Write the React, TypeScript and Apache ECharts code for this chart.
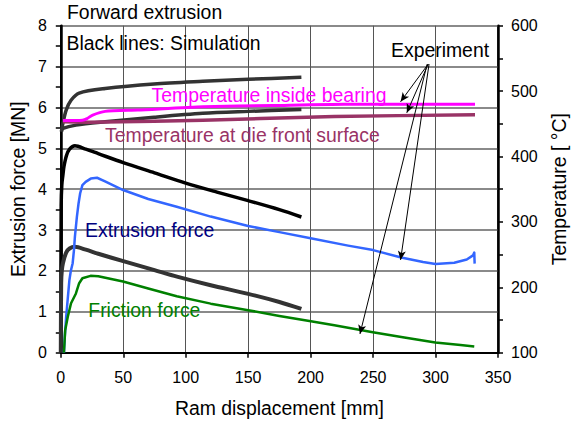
import React, { useEffect, useRef } from "react";
import * as echarts from "echarts";

// Ram displacement [mm] vs. value pairs
const simTempUpper: [number, number][] = [
  [0.5, 438], [1.7, 451], [4.3, 471], [8.2, 486], [14.7, 497], [35.5, 504],
  [74.6, 511], [113.7, 515], [150, 518], [192.6, 521],
];
const simTempLower: [number, number][] = [
  [0.5, 439], [1.7, 443], [12.1, 448], [35.5, 453], [74.6, 460],
  [113.7, 466], [150, 469], [192.6, 472],
];
const expTempBearing: [number, number][] = [
  [1.7, 455], [17.3, 455.6], [21, 458], [25.1, 463], [35.5, 469], [61.6, 471],
  [113.7, 476], [170, 478], [227, 480], [280, 480], [331.6, 480],
];
const expTempDie: [number, number][] = [
  [1.7, 453], [22.5, 452.5], [74.6, 454], [113.7, 455.6], [160, 458],
  [219, 461], [270, 462.5], [331.6, 464],
];
const simForce: [number, number][] = [
  [0, 0], [0.3, 3.6], [0.8, 4.1], [1.7, 4.35], [2.5, 4.55], [4.5, 4.82],
  [7, 4.98], [11.3, 5.06], [20, 4.98], [30, 4.87], [50, 4.65], [75, 4.4],
  [100, 4.15], [125, 3.93], [150, 3.72], [175, 3.5], [192.6, 3.32],
];
const simFriction: [number, number][] = [
  [0, 0], [0.3, 1.7], [0.8, 2.0], [1.7, 2.19], [4.3, 2.45], [7, 2.55],
  [11.3, 2.59], [20, 2.52], [30, 2.42], [50, 2.24], [75, 2.02], [93, 1.86],
  [120, 1.65], [150, 1.44], [175, 1.24], [192.6, 1.07],
];
const expForce: [number, number][] = [
  [2.5, 0], [3.2, 0.4], [4.3, 0.88], [5.5, 1.3], [6.9, 1.78], [8, 2.0],
  [9.5, 2.19], [10.5, 2.5], [11.3, 2.84], [12.9, 3.33], [14.2, 3.65],
  [15.5, 3.9], [17.3, 4.1], [19.9, 4.18], [24, 4.26], [29, 4.28], [35, 4.2],
  [49.9, 3.98], [70, 3.76], [92.8, 3.57], [120, 3.33], [150, 3.1],
  [175, 2.95], [200, 2.8], [230, 2.62], [250, 2.51], [272.5, 2.33],
  [290, 2.22], [300, 2.17], [315, 2.2], [325, 2.28], [330, 2.38],
  [331, 2.45], [331.3, 2.18],
];
const expFriction: [number, number][] = [
  [2.5, 0], [3.5, 0.55], [5.6, 0.88], [8.2, 1.21], [12.1, 1.45], [14.7, 1.7],
  [17.3, 1.82], [23.8, 1.88], [30, 1.87], [49.8, 1.74], [70, 1.57],
  [92.8, 1.38], [120, 1.2], [150, 1.04], [175, 0.9], [200.2, 0.77],
  [219, 0.67], [249.8, 0.5], [275, 0.37], [299.8, 0.25], [320, 0.19],
  [331, 0.15],
];

// "Experiment" callout arrows: [from, to] in (mm, MN)
const experimentArrows: [[number, number], [number, number]][] = [
  [[294.1, 7.06], [272, 6.14]],
  [[294.1, 7.06], [277, 5.87]],
  [[294.8, 7.06], [272, 2.27]],
  [[293.3, 7.06], [239.5, 0.46]],
];

const FONT = "'Liberation Sans', Arial, sans-serif";

const textEl = (text: string, x: number, y: number, color: string) => ({
  type: "text",
  x,
  y,
  style: {
    text,
    fill: color,
    font: `19.4px ${FONT}`,
    align: "left",
    verticalAlign: "middle",
    textAlign: "left",
    textVerticalAlign: "middle",
  },
  z: 100,
});

export default function App() {
  const ref = useRef<HTMLDivElement>(null);

  useEffect(() => {
    document.body.style.margin = "0";
    const chart = echarts.init(ref.current!, null, { renderer: "svg" });

    const line = (
      name: string,
      data: [number, number][],
      color: string,
      width: number,
      yAxisIndex = 0,
      smooth: number | boolean = false
    ) => ({
      name,
      type: "line",
      data,
      yAxisIndex,
      showSymbol: false,
      smooth,
      lineStyle: { color, width, cap: "butt", join: "round" },
      itemStyle: { color },
      silent: true,
    });

    const forceSeries: any = line("Extrusion force (exp.)", expForce, "#3366ff", 2.5);
    forceSeries.markLine = {
      silent: true,
      symbol: ["none", "arrow"],
      symbolSize: [6, 9],
      label: { show: false },
      lineStyle: { color: "#000", width: 1, type: "solid" },
      data: experimentArrows.map(([a, b]) => [{ coord: a }, { coord: b }]),
    };

    chart.setOption({
      animation: false,
      textStyle: { fontFamily: FONT },
      grid: {
        left: 59.5,
        right: 68.5,
        top: 25.7,
        bottom: 72.3,
        show: true,
        borderColor: "#000",
        borderWidth: 1.5,
        backgroundColor: "transparent",
      },
      xAxis: {
        type: "value",
        min: 0,
        max: 350,
        interval: 50,
        name: "Ram displacement [mm]",
        nameLocation: "middle",
        nameGap: 46,
        nameTextStyle: { fontSize: 19.4, color: "#000", fontFamily: FONT },
        axisLine: { show: true, onZero: false, lineStyle: { color: "#000", width: 2 } },
        axisTick: { show: true, length: 5, lineStyle: { color: "#000", width: 1.5 } },
        axisLabel: { fontSize: 16, color: "#000", margin: 17, fontFamily: FONT },
        splitLine: { show: true, lineStyle: { color: "#555", width: 1, type: "solid" } },
      },
      yAxis: [
        {
          type: "value",
          min: 0,
          max: 8,
          interval: 1,
          name: "Extrusion force [MN]",
          nameLocation: "middle",
          nameRotate: 90,
          nameGap: 33,
          nameTextStyle: { fontSize: 19.4, color: "#000", fontFamily: FONT },
          axisLine: { show: true, onZero: false, lineStyle: { color: "#000", width: 2.5 } },
          axisTick: { show: true, length: 5, lineStyle: { color: "#000", width: 1.5 } },
          minorTick: { show: true, splitNumber: 2, length: 5, lineStyle: { color: "#000", width: 1.5 } },
          axisLabel: { fontSize: 16, color: "#000", margin: 14, fontFamily: FONT },
          splitLine: { show: true, lineStyle: { color: "#8a8a8a", width: 2 } },
        },
        {
          type: "value",
          position: "right",
          min: 100,
          max: 600,
          interval: 100,
          name: "Temperature [ °C]",
          nameLocation: "middle",
          nameRotate: 90,
          nameGap: 51,
          nameTextStyle: { fontSize: 19.4, color: "#000", fontFamily: FONT },
          axisLine: { show: true, onZero: false, lineStyle: { color: "#000", width: 2.5 } },
          axisTick: { show: true, length: 5, lineStyle: { color: "#000", width: 1.5 } },
          minorTick: { show: true, splitNumber: 2, length: 5, lineStyle: { color: "#000", width: 1.5 } },
          axisLabel: { fontSize: 16, color: "#000", margin: 13, fontFamily: FONT },
          splitLine: { show: false },
        },
      ],
      series: [
        line("Simulation temperature (upper)", simTempUpper, "#333333", 3.5, 1, 0.3),
        line("Simulation temperature (lower)", simTempLower, "#333333", 3.5, 1, 0.3),
        line("Temperature at die front surface", expTempDie, "#993366", 3.5, 1),
        line("Temperature inside bearing", expTempBearing, "#ff00ff", 3, 1, 0.2),
        line("Extrusion force (sim.)", simForce, "#000000", 3.5, 0, 0.3),
        line("Friction force (sim.)", simFriction, "#333333", 4, 0, 0.3),
        forceSeries,
        line("Friction force (exp.)", expFriction, "#008000", 2.5),
      ],
      graphic: [
        textEl("Forward extrusion", 67, 11.5, "#000"),
        textEl("Black lines: Simulation", 66.5, 43.3, "#000"),
        textEl("Experiment", 391, 50, "#000"),
        textEl("Temperature inside bearing", 151.5, 95, "#ff00ff"),
        textEl("Temperature at die front surface", 105, 135, "#993366"),
        textEl("Extrusion force", 85, 230, "#000080"),
        textEl("Friction force", 88.3, 310, "#008000"),
      ],
    });

    return () => chart.dispose();
  }, []);

  return <div ref={ref} style={{ width: 576, height: 425 }} />;
}
